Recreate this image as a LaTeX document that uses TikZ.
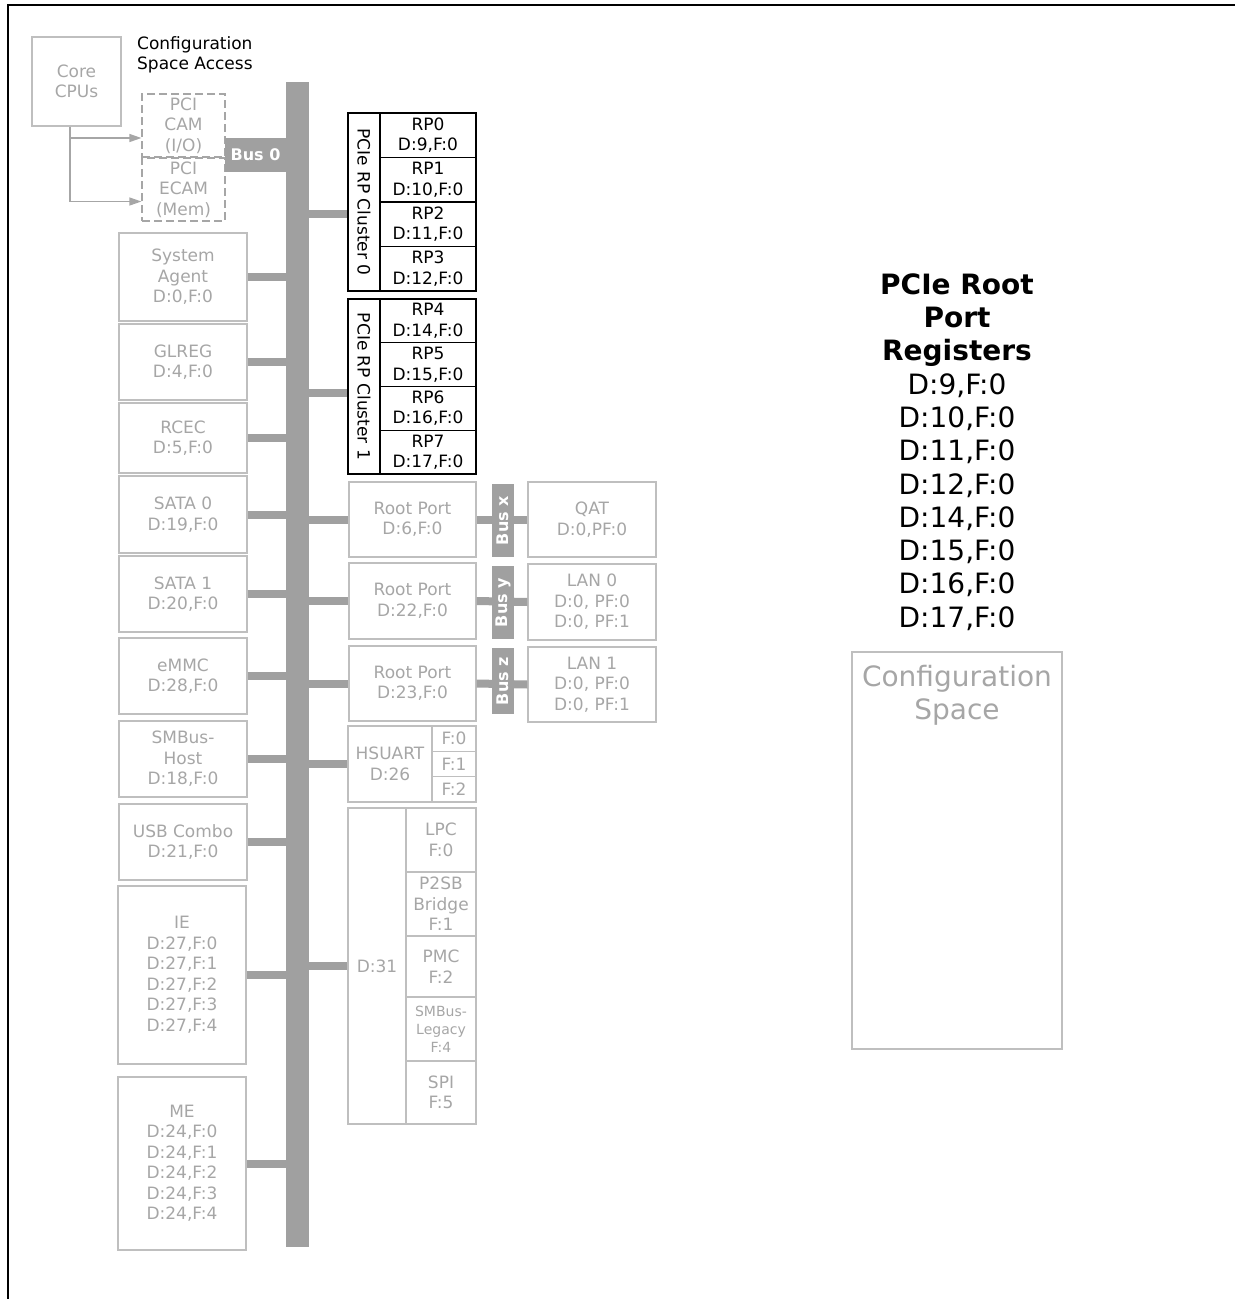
\documentclass[tikz,border=0pt]{standalone}
\usepackage{fontspec}
\setmainfont{DejaVu Sans}
\usetikzlibrary{arrows.meta}

\begin{document}
\begin{tikzpicture}[x=1pt, y=-1pt,
  gbox/.style={draw=boxline, line width=1.2pt, text=txtgray, align=center,
    inner sep=0pt, font=\fontsize{17}{20.5}\selectfont},
  kbox/.style={gbox, draw=black, text=black},
  dbox/.style={gbox, draw=txtgray, dash pattern=on 8pt off 4pt},
  busbar/.style={fill=busgray, inner sep=0pt, text=white,
    font=\fontsize{16}{19}\selectfont\bfseries},
  stub/.style={draw=busgray, line width=8pt},
  access/.style={draw=txtgray, line width=1.2pt, -{Triangle[length=12pt,width=8pt]}}]
  \definecolor{boxline}{RGB}{191,191,191}
  \definecolor{txtgray}{RGB}{166,166,166}
  \definecolor{busgray}{RGB}{160,160,160}

  \useasboundingbox (0,0) rectangle (1235,1299);
  \draw[line width=2.5pt] (8,1299) -- (8,5) -- (1235,5);

  % config access
  \node[gbox, minimum width=89pt, minimum height=89pt] (cpu) at (76.5,81.5) {Core\\CPUs};
  \node[anchor=west, align=left, inner sep=0pt, font=\fontsize{17}{20}\selectfont]
    (cfgacc) at (137,55) {Configuration\\Space Access};
  \node[dbox, minimum width=83pt, minimum height=63pt] (cam) at (183.5,125.5) {PCI\\CAM\\(I/O)};
  \node[dbox, minimum width=83pt, minimum height=63pt] (ecam) at (183.5,189.5) {PCI\\ECAM\\(Mem)};
  \draw[access] ([xshift=-6.5pt]cpu.south) |- ([yshift=-12.5pt]cam.west);
  \draw[access] ([xshift=-6.5pt]cpu.south) |- ([yshift=-12pt]ecam.west);

  % bus 0
  \node[busbar, minimum width=23pt, minimum height=1165pt] (bus) at (297.5,664.5) {};
  \node[busbar, minimum width=61pt, minimum height=34pt] (buslbl) at (255.5,155) {Bus 0};

  % devices left of the bus
  \node[gbox, minimum width=128pt, minimum height=88pt] (sa) at (183,277) {System\\Agent\\D:0,F:0};
  \node[gbox, minimum width=128pt, minimum height=76pt] (glreg) at (183,362) {GLREG\\D:4,F:0};
  \node[gbox, minimum width=128pt, minimum height=70pt] (rcec) at (183,438) {RCEC\\D:5,F:0};
  \node[gbox, minimum width=128pt, minimum height=77pt] (sata0) at (183,514.5) {SATA 0\\D:19,F:0};
  \node[gbox, minimum width=128pt, minimum height=76pt] (sata1) at (183,594) {SATA 1\\D:20,F:0};
  \node[gbox, minimum width=128pt, minimum height=76pt] (emmc) at (183,676) {eMMC\\D:28,F:0};
  \node[gbox, minimum width=128pt, minimum height=76pt] (smbh) at (183,759) {SMBus-\\Host\\D:18,F:0};
  \node[gbox, minimum width=128pt, minimum height=76pt] (usb) at (183,842) {USB Combo\\D:21,F:0};
  \node[gbox, minimum width=128pt, minimum height=178pt] (ie) at (182,975)
    {IE\\D:27,F:0\\D:27,F:1\\D:27,F:2\\D:27,F:3\\D:27,F:4};
  \node[gbox, minimum width=128pt, minimum height=173pt] (me) at (182,1163.5)
    {ME\\D:24,F:0\\D:24,F:1\\D:24,F:2\\D:24,F:3\\D:24,F:4};
  \foreach \dev in {sa,glreg,rcec,sata0,sata1,emmc,smbh,usb,ie,me}
    \draw[stub] (\dev.east) -- (\dev.east -| bus.west);

  % root port clusters
  \node[kbox, rotate=-90, minimum width=178pt, minimum height=32pt] (cl0) at (364,202) {PCIe RP Cluster 0};
  \foreach \i/\d in {0/9,1/10,2/11,3/12}
    \node[kbox, minimum width=96pt, minimum height=44.5pt] (rp\i) at (428,{135.25+44.5*\i}) {RP\i\\D:\d,F:0};
  \node[kbox, rotate=-90, minimum width=175pt, minimum height=32pt] (cl1) at (364,386.5) {PCIe RP Cluster 1};
  \foreach \i/\d in {4/14,5/15,6/16,7/17}
    \node[kbox, minimum width=96pt, minimum height=43.75pt] (rp\i) at (428,{320.9+43.75*(\i-4)}) {RP\i\\D:\d,F:0};
  \draw[stub] (bus.east |- 0,214) -- (cl0.south |- 0,214);
  \draw[stub] (bus.east |- 0,393) -- (cl1.south |- 0,393);

  % root ports with endpoints
  \node[gbox, minimum width=127pt, minimum height=75pt] (rpa) at (412.5,519.5) {Root Port\\D:6,F:0};
  \node[gbox, minimum width=127pt, minimum height=76pt] (rpb) at (412.5,601) {Root Port\\D:22,F:0};
  \node[gbox, minimum width=127pt, minimum height=75pt] (rpc) at (412.5,683.5) {Root Port\\D:23,F:0};
  \node[gbox, minimum width=128pt, minimum height=75pt] (qat) at (592,519.5) {QAT\\D:0,PF:0};
  \node[gbox, minimum width=128pt, minimum height=76pt] (lan0) at (592,602) {LAN 0\\D:0, PF:0\\D:0, PF:1};
  \node[gbox, minimum width=128pt, minimum height=75pt] (lan1) at (592,684.5) {LAN 1\\D:0, PF:0\\D:0, PF:1};
  \foreach \rp/\ep in {rpa/qat,rpb/lan0,rpc/lan1} {
    \draw[stub] (\rp.west -| bus.east) -- (\rp.west);
    \draw[stub] (\rp.east) -- (\ep.west);
  }
  \node[busbar, rotate=90, minimum width=73pt, minimum height=22pt] (busx) at (503,520.5) {Bus x};
  \node[busbar, rotate=90, minimum width=73pt, minimum height=22pt] (busy) at (503,602.5) {Bus y};
  \node[busbar, rotate=90, minimum width=66pt, minimum height=22pt] (busz) at (503,681) {Bus z};

  % multi-function devices
  \node[gbox, minimum width=84pt, minimum height=76pt] (hsuart) at (390,764) {HSUART\\D:26};
  \foreach \f in {0,1,2}
    \node[gbox, minimum width=44pt, minimum height=25.33pt] (hsf\f) at (454,{738.7+25.33*\f}) {F:\f};
  \node[gbox, minimum width=58pt, minimum height=316pt] (d31) at (377,966) {D:31};
  \node[gbox, minimum width=70pt, minimum height=64pt] (lpc) at (441,840) {LPC\\F:0};
  \node[gbox, minimum width=70pt, minimum height=64pt] (p2sb) at (441,904) {P2SB\\Bridge\\F:1};
  \node[gbox, minimum width=70pt, minimum height=61pt] (pmc) at (441,966.5) {PMC\\F:2};
  \node[gbox, minimum width=70pt, minimum height=64pt, font=\fontsize{14}{18}\selectfont]
    (smbl) at (441,1029) {SMBus-\\Legacy\\F:4};
  \node[gbox, minimum width=70pt, minimum height=63pt] (spi) at (441,1092.5) {SPI\\F:5};
  \draw[stub] (hsuart.west -| bus.east) -- (hsuart.west);
  \draw[stub] (d31.west -| bus.east) -- (d31.west);

  % register list
  \node[align=center, inner sep=0pt, font=\fontsize{28}{33.3}\selectfont] (regs) at (957,452)
    {\textbf{PCIe Root}\\\textbf{Port}\\\textbf{Registers}\\D:9,F:0\\D:10,F:0\\D:11,F:0\\D:12,F:0\\D:14,F:0\\D:15,F:0\\D:16,F:0\\D:17,F:0};
  \node[gbox, minimum width=210pt, minimum height=397pt] (cfgsp) at (957,850.5) {};
  \node[anchor=north, align=center, inner sep=0pt, text=txtgray, font=\fontsize{28}{33}\selectfont]
    (cfgtxt) at ([yshift=-14pt]cfgsp.north) {Configuration\\Space};
\end{tikzpicture}
\end{document}
